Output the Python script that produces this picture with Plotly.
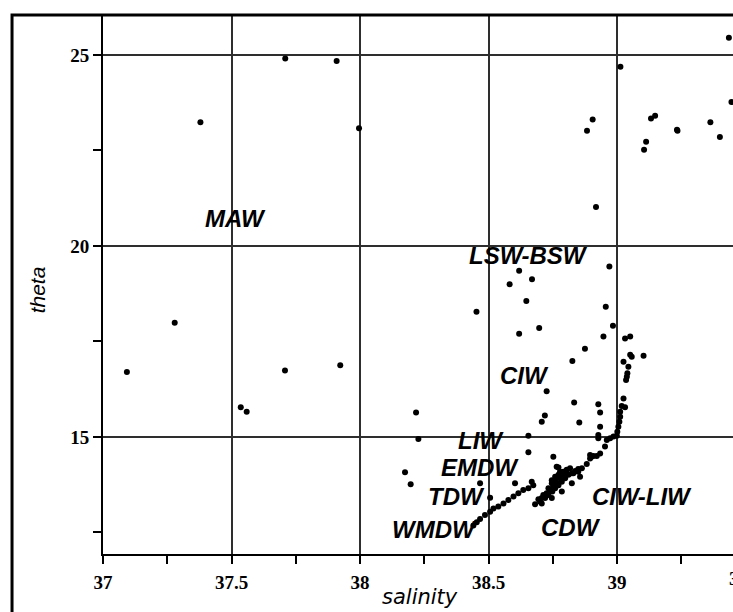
import plotly.graph_objects as go

# salinity / theta samples
salinity = [
    37.709, 37.909, 37.379, 37.996, 37.279, 37.093, 37.708, 37.923, 37.536, 37.559,
    39.435, 39.013, 38.905, 38.883, 39.148, 39.132, 39.233, 39.235, 39.113, 39.105,
    39.363, 39.400, 39.445, 38.918, 38.619, 38.669, 38.582, 38.647, 38.453, 38.619,
    38.697, 38.970, 38.956, 38.984, 38.947, 38.875, 38.826, 39.031, 39.051, 39.103,
    39.051, 39.057, 39.025, 39.044, 39.040, 39.038, 39.035, 38.726, 38.833, 38.719,
    38.707, 38.853, 38.927, 38.934, 38.934, 38.927, 38.927, 38.960, 38.973, 38.986,
    38.953, 38.934, 38.921, 38.908, 38.895, 38.752, 39.025, 39.018, 39.031, 39.012,
    39.012, 39.009, 39.005, 39.001, 38.999, 38.655, 38.655, 38.772, 38.882, 38.849,
    38.830, 38.811, 38.791, 38.798, 38.603, 38.467, 38.218, 38.227, 38.175, 38.197,
    38.668, 38.674, 38.655, 38.635, 38.616, 38.597, 38.577, 38.558, 38.538, 38.519,
    38.506, 38.486, 38.467, 38.454, 38.441, 38.506,
    38.681, 38.700, 38.720, 38.733, 38.748, 38.759, 38.772, 38.785, 38.798, 38.824,
    38.837, 38.849, 38.863, 38.707, 38.726, 38.739, 38.752, 38.765, 38.778, 38.791,
    38.798, 38.785, 38.772, 38.765, 38.746, 38.804, 38.817, 38.713, 38.694, 38.746,
    38.759, 38.778, 38.765, 38.895, 38.901, 38.707, 38.746, 38.785, 38.824, 38.856,
    38.733, 38.759,
]
theta = [
    24.91, 24.84, 23.24, 23.08, 17.99, 16.70, 16.74, 16.88, 15.78, 15.66,
    25.45, 24.69, 23.31, 23.02, 23.41, 23.34, 23.04, 23.02, 22.73, 22.52,
    23.24, 22.85, 23.77, 21.02, 19.35, 19.13, 19.00, 18.56, 18.28, 17.70,
    17.85, 19.46, 18.41, 17.91, 17.63, 17.31, 16.99, 17.58, 17.63, 17.13,
    17.15, 17.10, 16.97, 16.84, 16.67, 16.58, 16.49, 16.20, 15.90, 15.56,
    15.40, 15.38, 15.86, 15.64, 15.27, 15.05, 14.97, 14.92, 14.97, 15.01,
    14.75, 14.57, 14.50, 14.50, 14.53, 14.48, 16.01, 15.81, 15.78, 15.66,
    15.53, 15.40, 15.27, 15.14, 15.03, 15.03, 14.60, 14.20, 14.29, 14.09,
    14.05, 14.01, 14.09, 14.01, 13.79, 13.79, 15.64, 14.95, 14.08, 13.76,
    13.83, 13.74, 13.66, 13.61, 13.53, 13.44, 13.35, 13.26, 13.18, 13.13,
    13.04, 12.96, 12.85, 12.77, 12.68, 13.41,
    13.24, 13.31, 13.40, 13.48, 13.57, 13.66, 13.74, 13.83, 13.92, 14.05,
    14.11, 14.16, 14.18, 13.40, 13.53, 13.61, 13.70, 13.79, 13.92, 14.01,
    14.09, 14.05, 14.01, 13.92, 13.79, 14.14, 14.18, 13.48, 13.37, 13.87,
    13.96, 14.09, 14.22, 14.44, 14.48, 13.26, 13.40, 13.57, 13.79, 13.96,
    13.66, 13.83,
]

# water-mass labels
label_text = ["MAW", "LSW-BSW", "CIW", "LIW", "EMDW", "TDW", "WMDW", "CDW", "CIW-LIW"]
label_sal = [37.514, 38.655, 38.638, 38.471, 38.467, 38.374, 38.288, 38.821, 39.097]
label_theta = [20.71, 19.74, 16.62, 14.92, 14.19, 13.43, 12.57, 12.64, 13.43]

x_range = [37.0, 39.451]
y_range = [11.937, 26.047]

fig = go.Figure()
fig.add_trace(go.Scatter(
    x=salinity, y=theta, mode="markers",
    marker=dict(color="black", size=6, symbol="circle"),
    showlegend=False, hoverinfo="skip", cliponaxis=True,
))

label_font = dict(family="Liberation Sans", size=24, color="black",
                  weight="bold", style="italic")
for t, sx, ty in zip(label_text, label_sal, label_theta):
    fig.add_annotation(x=sx, y=ty, xref="x", yref="y", text=t, showarrow=False,
                       font=label_font, xanchor="center", yanchor="middle")

tick_font = dict(family="Liberation Serif", size=19, color="black", weight="bold")
grid_col = "#2e2e2e"

fig.update_xaxes(
    range=x_range, tickmode="linear", tick0=37, dtick=0.5,
    ticks="outside", ticklen=8, tickwidth=1.5, tickcolor="black",
    showgrid=True, gridcolor=grid_col, gridwidth=1.6,
    showline=True, linecolor="black", linewidth=2,
    zeroline=False, tickfont=tick_font, ticklabelstandoff=2,
    minor=dict(dtick=0.25, tick0=37, ticks="outside", ticklen=8,
               tickwidth=1.5, tickcolor="black", showgrid=False),
)
fig.update_yaxes(
    range=y_range, tickmode="linear", tick0=15, dtick=5,
    ticks="outside", ticklen=8, tickwidth=1.5, tickcolor="black",
    showgrid=True, gridcolor=grid_col, gridwidth=1.6,
    showline=True, linecolor="black", linewidth=2,
    zeroline=False, tickfont=tick_font,
    minor=dict(dtick=2.5, tick0=12.5, ticks="outside", ticklen=8,
               tickwidth=1.5, tickcolor="black", showgrid=False),
)

# cut-off tick label at right edge (as in the reference)
fig.add_annotation(x=(39.5 - x_range[0]) / (x_range[1] - x_range[0]), y=0,
                   xref="paper", yref="paper", text="39.5", showarrow=False,
                   font=tick_font, xanchor="center", yanchor="top", yshift=-12)

# axis titles
fig.add_annotation(x=0.503, y=-0.080, xref="paper", yref="paper", text="salinity",
                   showarrow=False, xanchor="center", yanchor="middle",
                   font=dict(family="DejaVu Sans", size=21, color="black", style="italic"))
fig.add_annotation(x=-0.104, y=0.49, xref="paper", yref="paper", text="theta",
                   showarrow=False, xanchor="center", yanchor="middle", textangle=-90,
                   font=dict(family="Liberation Sans", size=21, color="black", style="italic"))

# outer frame
fig.add_shape(type="rect", xref="paper", yref="paper",
              x0=-0.1444, x1=1.3, y0=-0.4, y1=1.0,
              line=dict(color="black", width=3), fillcolor="rgba(0,0,0,0)", layer="above")

fig.update_layout(
    width=733, height=612,
    margin=dict(l=103, r=0, t=15, b=58, pad=0),
    paper_bgcolor="white", plot_bgcolor="white",
    showlegend=False,
)

fig.write_html("out.html")
